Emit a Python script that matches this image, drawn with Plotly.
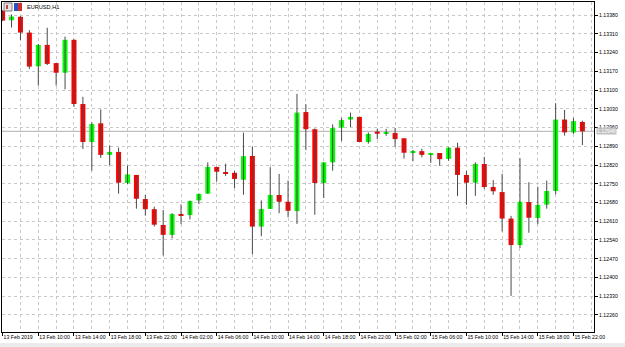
import plotly.graph_objects as go

# ---- data (EURUSD H1, 13 Feb 06:00 -> 15 Feb 23:00) ----
opens = [1.13396, 1.13361, 1.13374, 1.13315, 1.13189, 1.13269, 1.13201, 1.13165, 1.13288, 1.13048,
         1.12906, 1.12976, 1.12858, 1.12869, 1.12753, 1.12783, 1.12693, 1.12655, 1.12596, 1.12559,
         1.12637, 1.12633, 1.12688, 1.12713, 1.12813, 1.12794, 1.12791, 1.12765, 1.12854, 1.12590,
         1.12656, 1.12708, 1.12683, 1.12648, 1.13018, 1.12954, 1.12753, 1.12830, 1.12960, 1.12990,
         1.13000, 1.12906, 1.12945, 1.12937, 1.12940, 1.12920, 1.12865, 1.12872, 1.12859, 1.12865,
         1.12843, 1.12885, 1.12783, 1.12754, 1.12824, 1.12738, 1.12719, 1.12620, 1.12521, 1.12682,
         1.12622, 1.12672, 1.12723, 1.12990, 1.12942, 1.12981]
closes = [1.13360, 1.13375, 1.13315, 1.13188, 1.13269, 1.13198, 1.13165, 1.13288, 1.13048, 1.12906,
          1.12973, 1.12858, 1.12869, 1.12754, 1.12785, 1.12694, 1.12655, 1.12597, 1.12559, 1.12637,
          1.12633, 1.12686, 1.12712, 1.12813, 1.12795, 1.12790, 1.12768, 1.12853, 1.12590, 1.12656,
          1.12708, 1.12683, 1.12649, 1.13016, 1.12954, 1.12753, 1.12830, 1.12958, 1.12988, 1.13000,
          1.12906, 1.12936, 1.12937, 1.12940, 1.12917, 1.12866, 1.12872, 1.12858, 1.12862, 1.12842,
          1.12885, 1.12783, 1.12754, 1.12824, 1.12738, 1.12722, 1.12620, 1.12521, 1.12683, 1.12623,
          1.12671, 1.12723, 1.12990, 1.12942, 1.12984, 1.12946]
highs = [1.13399, 1.13383, 1.13377, 1.13324, 1.13272, 1.13333, 1.13201, 1.13300, 1.13290, 1.13075,
         1.12980, 1.13028, 1.12894, 1.12885, 1.12818, 1.12783, 1.12708, 1.12664, 1.12652, 1.12640,
         1.12673, 1.12687, 1.12714, 1.12830, 1.12813, 1.12825, 1.12798, 1.12941, 1.12889, 1.12688,
         1.12812, 1.12787, 1.12762, 1.13086, 1.13047, 1.12957, 1.12830, 1.12972, 1.12996, 1.13016,
         1.13000, 1.12942, 1.12955, 1.12955, 1.12958, 1.12920, 1.12876, 1.12881, 1.12862, 1.12865,
         1.12886, 1.12903, 1.12798, 1.12830, 1.12851, 1.12764, 1.12787, 1.12630, 1.12846, 1.12756,
         1.12739, 1.12762, 1.13051, 1.13026, 1.12996, 1.12986]
lows = [1.13358, 1.13334, 1.13287, 1.13179, 1.13117, 1.13194, 1.13117, 1.13103, 1.13038, 1.12880,
        1.12799, 1.12847, 1.12820, 1.12713, 1.12749, 1.12657, 1.12631, 1.12590, 1.12482, 1.12546,
        1.12599, 1.12617, 1.12674, 1.12713, 1.12758, 1.12779, 1.12734, 1.12709, 1.12487, 1.12554,
        1.12656, 1.12640, 1.12625, 1.12600, 1.12876, 1.12634, 1.12697, 1.12799, 1.12910, 1.12962,
        1.12906, 1.12900, 1.12917, 1.12929, 1.12889, 1.12844, 1.12834, 1.12849, 1.12828, 1.12817,
        1.12836, 1.12704, 1.12671, 1.12705, 1.12731, 1.12709, 1.12572, 1.12331, 1.12510, 1.12567,
        1.12599, 1.12657, 1.12711, 1.12930, 1.12937, 1.12895]

x_tick_labels = ["13 Feb 2019", "13 Feb 10:00", "13 Feb 14:00", "13 Feb 18:00", "13 Feb 22:00",
                 "14 Feb 02:00", "14 Feb 06:00", "14 Feb 10:00", "14 Feb 14:00", "14 Feb 18:00",
                 "14 Feb 22:00", "15 Feb 02:00", "15 Feb 06:00", "15 Feb 10:00", "15 Feb 14:00",
                 "15 Feb 18:00", "15 Feb 22:00"]
y_tick_labels = ["1.12260", "1.12330", "1.12400", "1.12470", "1.12540", "1.12610", "1.12680",
                 "1.12750", "1.12820", "1.12890", "1.12960", "1.13030", "1.13100", "1.13170",
                 "1.13240", "1.13310", "1.13380"]
symbol_title = "EURUSD,H1"

# ---- build ----
n = len(opens)
idx = list(range(n))
GREEN = "#00ff00"
RED = "#ff0000"
WICK = "#4a4a4a"
MIN_BODY = 0.00004

wx, wy = [], []
for i in idx:
    wx += [i, i, None]
    wy += [lows[i], highs[i], None]

bases, heights, colors = [], [], []
for o, c in zip(opens, closes):
    lo, hi = min(o, c), max(o, c)
    h = hi - lo
    if h < MIN_BODY:
        lo -= (MIN_BODY - h) / 2
        h = MIN_BODY
    bases.append(lo)
    heights.append(h)
    colors.append(GREEN if c > o else RED)

fig = go.Figure()
fig.add_trace(go.Scatter(x=wx, y=wy, mode="lines", line=dict(color=WICK, width=1),
                         hoverinfo="skip", showlegend=False))
fig.add_trace(go.Bar(x=idx, y=heights, base=bases, width=0.56,
                     marker=dict(color=colors, line=dict(width=0)), showlegend=False))

last = closes[-1]
# current price line
fig.add_shape(type="line", xref="paper", x0=0, x1=1, yref="y", y0=last, y1=last,
              line=dict(color="#c0c0c0", width=1.2), layer="below")

FAMILY = "Liberation Sans, Arial, sans-serif"
FONT = dict(family=FAMILY, size=5.2, color="#000000")

fig.add_annotation(xref="paper", yref="y", x=1, y=last, xanchor="left", yanchor="middle",
                   xshift=2, text=f"{last:.5f}", showarrow=False,
                   bgcolor="#c0c0c0", borderpad=0,
                   font=dict(family=FAMILY, size=5.2, color="#ffffff"))

# title + icons
fig.add_annotation(xref="paper", yref="paper", x=(25 - 2) / 592, y=(332 - 7) / 330,
                   xanchor="left", yanchor="middle", text=symbol_title, showarrow=False,
                   font=dict(family=FAMILY, size=5.6, color="#000000"))
fig.add_shape(type="rect", xref="paper", yref="paper",
              x0=(4 - 2) / 592, x1=(12 - 2) / 592, y0=(332 - 11) / 330, y1=(332 - 3) / 330,
              fillcolor="#e4e4e4", line=dict(color="#808080", width=1))
fig.add_shape(type="rect", xref="paper", yref="paper",
              x0=(6 - 2) / 592, x1=(8 - 2) / 592, y0=(332 - 9) / 330, y1=(332 - 5) / 330,
              fillcolor="#d04040", line=dict(width=0))
fig.add_shape(type="rect", xref="paper", yref="paper",
              x0=(14 - 2) / 592, x1=(18 - 2) / 592, y0=(332 - 11) / 330, y1=(332 - 3) / 330,
              fillcolor="#3050c0", line=dict(width=0))
fig.add_shape(type="rect", xref="paper", yref="paper",
              x0=(18 - 2) / 592, x1=(22 - 2) / 592, y0=(332 - 11) / 330, y1=(332 - 3) / 330,
              fillcolor="#d03030", line=dict(width=0))
# bottom strip
fig.add_shape(type="rect", xref="paper", yref="paper",
              x0=-2 / 592, x1=623 / 592, y0=(332 - 347) / 330, y1=(332 - 343) / 330,
              fillcolor="#ececec", line=dict(width=0))

GRID = "#c8c8c8"
fig.update_layout(
    width=625, height=347,
    margin=dict(l=2, r=31, t=2, b=15),
    paper_bgcolor="#ffffff", plot_bgcolor="#ffffff",
    barmode="overlay", showlegend=False,
    xaxis=dict(range=[-0.07, 66.3], tickmode="array",
               tickvals=list(range(0, n, 4)), ticktext=x_tick_labels,
               ticks="outside", ticklen=3, tickcolor="#000000", tickangle=0,
               ticklabelposition="outside right",
               tickfont=FONT, showgrid=True, gridcolor=GRID, griddash="dot", gridwidth=1,
               minor=dict(tick0=0, dtick=2, showgrid=True, gridcolor=GRID, griddash="dot",
                          gridwidth=1, ticks=""),
               showline=True, linecolor="#000000", linewidth=1, mirror=True,
               zeroline=False, fixedrange=True),
    yaxis=dict(range=[1.121961, 1.134293], side="right", tickmode="array",
               tickvals=[float(v) for v in y_tick_labels], ticktext=y_tick_labels,
               ticks="outside", ticklen=3, tickcolor="#000000", tickfont=FONT,
               showgrid=True, gridcolor=GRID, griddash="dot", gridwidth=1,
               showline=True, linecolor="#000000", linewidth=1, mirror=True,
               zeroline=False, fixedrange=True),
)

fig.write_html("out.html")
